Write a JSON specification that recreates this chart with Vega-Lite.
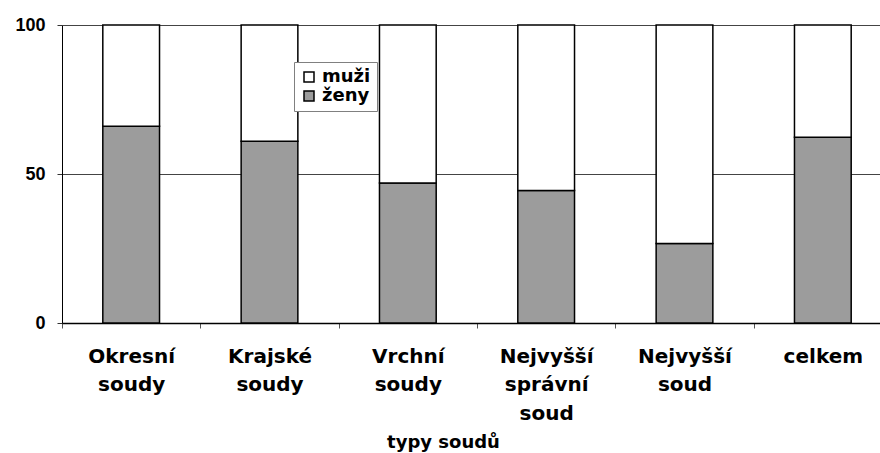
{
  "$schema": "https://vega.github.io/schema/vega-lite/v6.json",
  "autosize": "none",
  "padding": {"left": 62, "top": 25, "right": 0, "bottom": 130},
  "width": 830,
  "height": 298,
  "background": "white",
  "config": {"view": {"stroke": null}},
  "data": {
    "values": [
      {"soud": "Okresní soudy", "pohlavi": "ženy", "podil": 66},
      {"soud": "Okresní soudy", "pohlavi": "muži", "podil": 34},
      {"soud": "Krajské soudy", "pohlavi": "ženy", "podil": 61},
      {"soud": "Krajské soudy", "pohlavi": "muži", "podil": 39},
      {"soud": "Vrchní soudy", "pohlavi": "ženy", "podil": 47},
      {"soud": "Vrchní soudy", "pohlavi": "muži", "podil": 53},
      {"soud": "Nejvyšší správní soud", "pohlavi": "ženy", "podil": 44.5},
      {"soud": "Nejvyšší správní soud", "pohlavi": "muži", "podil": 55.5},
      {"soud": "Nejvyšší soud", "pohlavi": "ženy", "podil": 26.7},
      {"soud": "Nejvyšší soud", "pohlavi": "muži", "podil": 73.3},
      {"soud": "celkem", "pohlavi": "ženy", "podil": 62.3},
      {"soud": "celkem", "pohlavi": "muži", "podil": 37.7}
    ]
  },
  "mark": {"type": "bar", "width": {"band": 0.41}, "stroke": "black", "strokeWidth": 1.5},
  "encoding": {
    "x": {
      "field": "soud",
      "type": "nominal",
      "sort": null,
      "scale": {"paddingInner": 0, "paddingOuter": 0},
      "axis": {
        "title": "typy soudů",
        "titleFont": "DejaVu Sans",
        "titleFontSize": 18,
        "titleFontWeight": "bold",
        "titleColor": "black",
        "titleX": 381,
        "titleY": 124,
        "titleAlign": "center",
        "titleBaseline": "alphabetic",
        "labelAngle": 0,
        "labelFont": "DejaVu Sans",
        "labelFontSize": 20,
        "labelFontWeight": "bold",
        "labelColor": "black",
        "labelBaseline": "alphabetic",
        "labelPadding": 34,
        "labelLineHeight": 28.5,
        "labelExpr": "split(datum.label, ' ')",
        "tickBand": "extent",
        "tickSize": 5,
        "tickColor": "#555555",
        "domainColor": "black",
        "domainWidth": 1.5,
        "labelOverlap": false
      }
    },
    "y": {
      "field": "podil",
      "type": "quantitative",
      "stack": "zero",
      "scale": {"domain": [0, 100], "nice": false},
      "axis": {
        "title": null,
        "values": [0, 50, 100],
        "grid": true,
        "gridColor": "#444444",
        "gridWidth": 1,
        "labelFont": "Liberation Sans",
        "labelFontSize": 18,
        "labelFontWeight": "bold",
        "labelColor": "black",
        "labelPadding": 12,
        "tickSize": 5,
        "tickColor": "#333333",
        "domainColor": "black",
        "domainWidth": 1
      }
    },
    "color": {
      "field": "pohlavi",
      "type": "nominal",
      "scale": {"domain": ["muži", "ženy"], "range": ["white", "#9c9c9c"]},
      "legend": {
        "title": null,
        "orient": "none",
        "legendX": 232,
        "legendY": 37,
        "symbolType": "square",
        "symbolSize": 100,
        "symbolStrokeColor": "black",
        "symbolStrokeWidth": 1.5,
        "symbolOpacity": 1,
        "labelFont": "DejaVu Sans",
        "labelFontSize": 18,
        "labelFontWeight": "bold",
        "labelColor": "black",
        "rowPadding": 1,
        "padding": 6,
        "strokeColor": "#808080",
        "fillColor": "white"
      }
    },
    "order": {"field": "pohlavi", "sort": "descending"}
  }
}
